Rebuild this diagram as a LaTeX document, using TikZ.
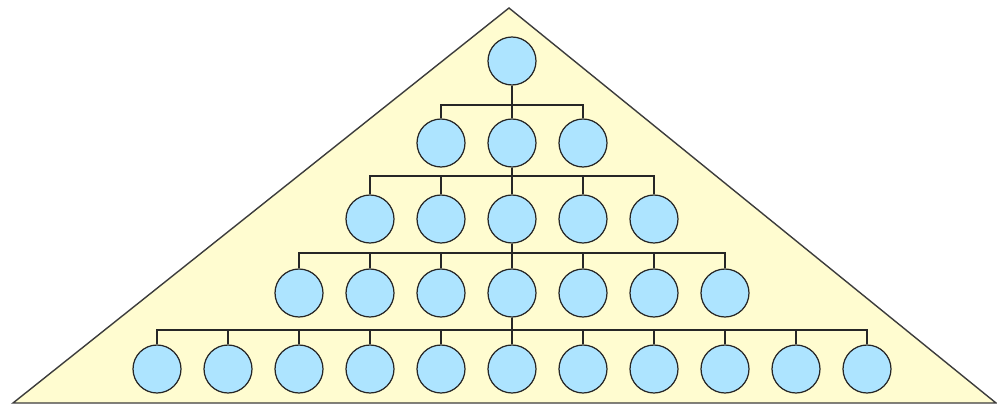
\documentclass[tikz,border=0pt]{standalone}
\usepackage{tikz}

\definecolor{pyrfill}{RGB}{255,252,208}
\definecolor{ballfill}{RGB}{173,228,255}
\definecolor{pyredge}{RGB}{60,60,60}

\begin{document}
\begin{tikzpicture}[x=0.02cm,y=0.02cm,
    pyramid/.style={draw=pyredge,fill=pyrfill,line width=0.8pt,line join=miter},
    ball/.style={circle,draw=black!85,fill=ballfill,line width=0.7pt,minimum size=0.96cm,inner sep=0pt},
    link/.style={draw=black!85,line width=0.7pt}]
    \useasboundingbox (0,0) rectangle (997,406);
    \draw[pyramid] (13,3) -- (509,398) -- (996,3) -- cycle;
    \foreach \i/\y/\n in {1/345/1, 2/263/3, 3/187/5, 4/113/7, 5/37/11}
      \foreach \j in {1,...,\n}
        \node[ball] (n\i-\j) at ({512+71*(\j-(\n+1)/2)},\y) {};
    \foreach \pr/\pj/\cr/\n/\by in {1/1/2/3/301, 2/2/3/5/230, 3/3/4/7/153, 4/4/5/11/76}
      \foreach \j in {1,...,\n}
        \draw[link] (n\pr-\pj.south) -- (n\pr-\pj.south |- 0,\by) -| (n\cr-\j.north);
  \end{tikzpicture}
\end{document}
